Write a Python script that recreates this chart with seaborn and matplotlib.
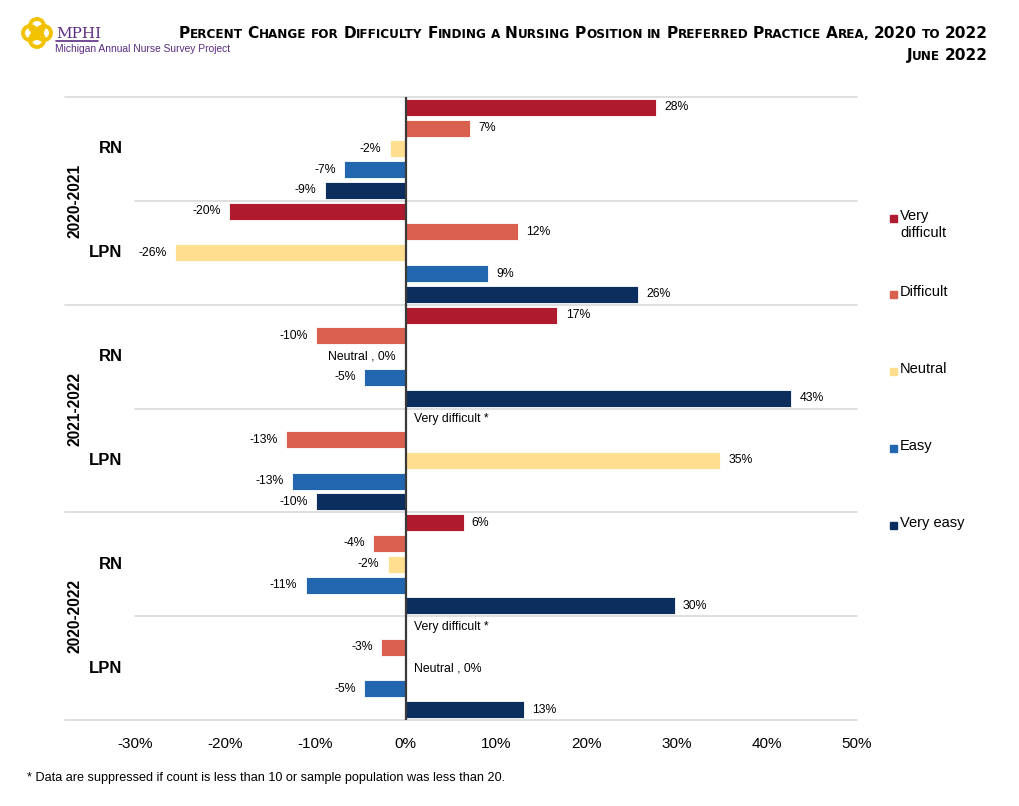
import numpy as np
import pandas as pd
import seaborn as sns
import matplotlib.pyplot as plt
from matplotlib.patches import Circle, Rectangle

# categories
periods = ["2020-2021", "2021-2022", "2020-2022"]
nurses = ["RN", "LPN"]
levels = ["Very difficult", "Difficult", "Neutral", "Easy", "Very easy"]
colors = ["#B01A2E", "#D9604E", "#FDDF8F", "#2166AE", "#0B2E5E"]

# percent change by level (nan = suppressed)
rn_2021 = [27.7, 7.1, -1.8, -6.8, -9.0]
lpn_2021 = [-19.6, 12.4, -25.6, 9.1, 25.7]
rn_2122 = [16.8, -9.9, -0.2, -4.6, 42.7]
lpn_2122 = [np.nan, -13.3, 34.8, -12.6, -9.9]
rn_2022 = [6.4, -3.6, -2.0, -11.1, 29.8]
lpn_2022 = [np.nan, -2.7, 0.0, -4.6, 13.1]

x_ticks = [-30, -20, -10, 0, 10, 20, 30, 40, 50]

values = {
    ("2020-2021", "RN"): rn_2021, ("2020-2021", "LPN"): lpn_2021,
    ("2021-2022", "RN"): rn_2122, ("2021-2022", "LPN"): lpn_2122,
    ("2020-2022", "RN"): rn_2022, ("2020-2022", "LPN"): lpn_2022,
}

rows = []
for p in periods:
    for n in nurses:
        for lev, v in zip(levels, values[(p, n)]):
            rows.append(dict(period=p, nurse=n, level=lev, slot=f"{p} {n} {lev}", pct=v))
df = pd.DataFrame(rows)
order = list(df["slot"])

sns.set_theme(style="white")
plt.rcParams["font.family"] = ["Liberation Sans", "DejaVu Sans"]
plt.rcParams["text.color"] = "black"
plt.rcParams["xtick.color"] = "black"

W, H = 1019, 806
fig = plt.figure(figsize=(W / 100, H / 100), dpi=100)
ax = fig.add_axes([135 / W, 1 - 720 / H, (857 - 135) / W, (720 - 97) / H])

sns.barplot(data=df, x="pct", y="slot", hue="level", order=order, hue_order=levels,
            palette=dict(zip(levels, colors)), dodge=False, orient="h", width=0.82,
            errorbar=None, legend=False, saturation=1, edgecolor="white", linewidth=0.6, ax=ax)

ax.set_xlim(-30, 50)
ax.set_ylim(len(order) - 0.5, -0.5)
for s in ax.spines.values():
    s.set_visible(False)
ax.set_yticks([])
ax.set_xlabel("")
ax.set_ylabel("")
ax.set_xticks(x_ticks)
ax.set_xticklabels([f"{t}%" for t in x_ticks])
ax.tick_params(axis="x", length=0, pad=12, labelsize=11)

# separators
ytr = ax.get_yaxis_transform()
for k in range(7):
    yb = k * 5 - 0.5
    x0 = -0.097 if k % 2 == 0 else 0
    ax.plot([x0, 1], [yb, yb], transform=ytr, color="#D9D9D9", lw=1.2, clip_on=False, zorder=0)
ax.axvline(0, color="#3A3A3A", lw=1.6, zorder=5)

# data labels
for i, r in df.iterrows():
    v = r.pct
    if np.isnan(v):
        txt, side = f"{r.level} *", 1
    elif round(v) == 0:
        txt, side = f"{r.level} , 0%", (-1 if v < 0 else 1)
    else:
        txt, side = f"{round(v)}%", (-1 if v < 0 else 1)
    xv = 0 if np.isnan(v) else v
    ax.annotate(txt, (xv, i), xytext=(6 * side, 0), textcoords="offset points",
                ha="left" if side > 0 else "right", va="center", fontsize=8.8)

# category labels
for pi, p in enumerate(periods):
    for ni, n in enumerate(nurses):
        c = (pi * 2 + ni) * 5 + 2
        ax.text(-0.017, c, n, transform=ytr, ha="right", va="center", fontsize=12, weight="bold")
    ax.text(-0.083, pi * 10 + 4.5, p, transform=ytr, ha="center", va="center",
            rotation=90, fontsize=11.2, weight="bold")

# legend
leg_y = [218, 294, 371, 448, 525]
leg_lab = ["Very\ndifficult", "Difficult", "Neutral", "Easy", "Very easy"]
for yc, lab, col in zip(leg_y, leg_lab, colors):
    fig.add_artist(Rectangle((890 / W, 1 - (yc + 4) / H), 7 / W, 7 / H, color=col,
                             transform=fig.transFigure))
    fig.text(900 / W, 1 - (yc - 9) / H, lab, ha="left", va="top", fontsize=10.5,
             linespacing=1.25)

# footnote
fig.text(27 / W, 1 - 778 / H, "* Data are suppressed if count is less than 10 or sample population was less than 20.",
         ha="left", va="center", fontsize=9.1)


# title in small caps
def small_caps(s, y_px, big=11.1, small=8.65):
    prev = first = None
    yf = 1 - y_px / H
    for wi, word in enumerate(s.split(" ")):
        runs = []
        for ch in word:
            size = big if (ch.isupper() or ch.isdigit()) else small
            if runs and runs[-1][1] == size:
                runs[-1][0] += ch.upper()
            else:
                runs.append([ch.upper(), size])
        for ri, (txt, size) in enumerate(runs):
            gap = big * 0.3 if (ri == 0 and wi > 0) else 0
            kw = dict(fontsize=size, weight="bold", va="baseline", ha="left",
                      family="DejaVu Sans", color="black")
            if prev is None:
                t = fig.text(0.1, yf, txt, **kw)
                first = t
            else:
                t = ax.annotate(txt, xy=(1, yf), xycoords=(prev, "figure fraction"),
                                xytext=(gap, 0), textcoords="offset points",
                                annotation_clip=False, **kw)
            prev = t
    return first, prev


lines = [small_caps("Percent Change for Difficulty Finding a Nursing Position in Preferred Practice Area, 2020 to 2022", 38),
         small_caps("June 2022", 60)]
fig.canvas.draw()
for first, last in lines:
    x1 = last.get_window_extent().x1
    first.set_x(first.get_position()[0] + (988 - x1) / W)

# logo
purple = "#5B2C83"
gold = "#F2C200"
cx, cy = 37, 33
for dx, dy in [(-7, 0), (7, 0), (0, -7), (0, 7)]:
    fig.add_artist(Circle(((cx + dx) / 100, (H - cy - dy) / 100), 0.07, fill=False,
                          edgecolor=gold, lw=2.8, transform=fig.dpi_scale_trans))
fig.add_artist(Rectangle(((cx - 5) / 100, (H - cy - 5) / 100), 0.1, 0.1, fill=False,
                         edgecolor=gold, lw=2.0, transform=fig.dpi_scale_trans))
fig.text(56 / W, 1 - 38 / H, "MPHI", family="DejaVu Serif", fontsize=11, color=purple, va="baseline")
fig.add_artist(plt.Line2D([56 / W, 98 / W], [1 - 41 / H, 1 - 41 / H], color=purple, lw=1.2))
fig.text(55 / W, 1 - 49 / H, "Michigan Annual Nurse Survey Project", family="Liberation Sans",
         fontsize=7.4, color=purple, va="center")

fig.savefig("out.png", dpi=100)
